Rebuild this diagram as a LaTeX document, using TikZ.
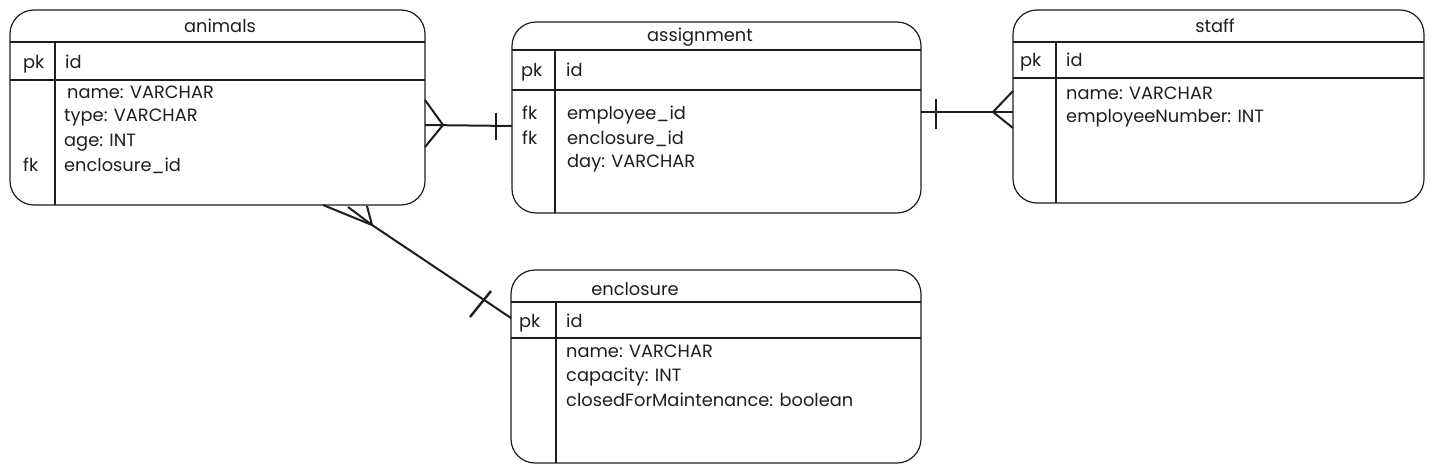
\documentclass[tikz,border=0pt]{standalone}
\usepackage{fontspec}
\setmainfont{Poppins}
\usetikzlibrary{calc}
\definecolor{ink}{HTML}{1E1E1E}
\tikzset{
  tbl/.style={draw=ink, line width=1.2pt, rounded corners=24pt, inner sep=0pt},
  sep/.style={draw=ink, line width=2.4pt},
  conn/.style={draw=ink, line width=2pt},
  barline/.style={draw=ink, line width=2.4pt},
  ttl/.style={inner sep=0pt, anchor=base, font=\fontsize{17.8}{20}\selectfont, text=ink},
  fld/.style={inner sep=0pt, anchor=base west, font=\fontsize{17.8}{20}\selectfont, text=ink},
}
% \erbox{name}{x1}{y1}{x2}{y2}{title line y}{pk line y}{divider x}
\newcommand{\erbox}[8]{%
  \node[tbl, minimum width={(#4-#2)*1pt}, minimum height={(#5-#3)*1pt}] (#1) at ({(#2+#4)/2},{(#3+#5)/2}) {};
  \draw[sep] (#2,#6) -- (#4,#6);
  \draw[sep] (#2,#7) -- (#4,#7);
  \draw[sep] (#8,#6) -- (#8,#5);
}
\begin{document}
\begin{tikzpicture}[x=1pt,y=-1pt]
\useasboundingbox[fill=white] (0,0) rectangle (1434,473);

% animals
\erbox{animals}{10}{10}{425}{205}{42}{80}{55}
\node[ttl] (animalsT) at (220,33) {animals};
\node[fld] (animalsPk) at (23,69) {pk};
\node[fld] (animalsId) at (65,69) {id};
\node[fld] (animalsF1) at (67,99) {name: VARCHAR};
\node[fld] (animalsF2) at (64,122) {type: VARCHAR};
\node[fld] (animalsF3) at (64,147) {age: INT};
\node[fld] (animalsFk) at (23,172) {fk};
\node[fld] (animalsF4) at (64,172) {enclosure\_id};

% assignment
\erbox{assignment}{512}{22}{921}{213}{50}{90}{555}
\node[ttl] (assignT) at (700,42) {assignment};
\node[fld] (assignPk) at (521,77) {pk};
\node[fld] (assignId) at (566,77) {id};
\node[fld] (assignFk1) at (522,120) {fk};
\node[fld] (assignF1) at (567,120) {employee\_id};
\node[fld] (assignFk2) at (522,145) {fk};
\node[fld] (assignF2) at (567,145) {enclosure\_id};
\node[fld] (assignF3) at (567,168) {day: VARCHAR};

% staff
\erbox{staff}{1013}{10}{1424}{203}{42}{78}{1056}
\node[ttl] (staffT) at (1215,33) {staff};
\node[fld] (staffPk) at (1020,67) {pk};
\node[fld] (staffId) at (1066,67) {id};
\node[fld] (staffF1) at (1066,100) {name: VARCHAR};
\node[fld] (staffF2) at (1066,123) {employeeNumber: INT};

% enclosure
\erbox{enclosure}{511}{270}{921}{463}{302}{338}{556}
\node[ttl] (enclT) at (635,295) {enclosure};
\node[fld] (enclPk) at (519,327) {pk};
\node[fld] (enclId) at (566,327) {id};
\node[fld] (enclF1) at (566,357) {name: VARCHAR};
\node[fld] (enclF2) at (566,381) {capacity: INT};
\node[fld] (enclF3) at (566,406) {closedForMaintenance: boolean};

% connector animals -- assignment
\coordinate (aaA) at (425,125);
\coordinate (aaApex) at (443,125);
\coordinate (aaB) at (512,126);
\draw[conn] (aaA) -- (aaB);
\draw[conn] (425,100) -- (aaApex) -- (425,147);
\draw[barline] (496,113) -- (496,140);

% connector assignment -- staff
\coordinate (asA) at (921,112);
\coordinate (asB) at (1013,112);
\coordinate (asApex) at (993,112);
\draw[conn] (asA) -- (asB);
\draw[barline] (936,99) -- (936,129);
\draw[conn] (1013,91) -- (asApex) -- (1013,128);

% connector animals -- enclosure
\coordinate (aeApex) at (372,225);
\coordinate (aeB) at (511,318);
\draw[conn] (aeB) -- (aeApex);
\draw[conn] (323,205) -- (aeApex);
\draw[conn] (348,207) -- (aeApex);
\draw[conn] (367,206) -- (aeApex);
\draw[barline] (470,317) -- (491,291);
\end{tikzpicture}
\end{document}
